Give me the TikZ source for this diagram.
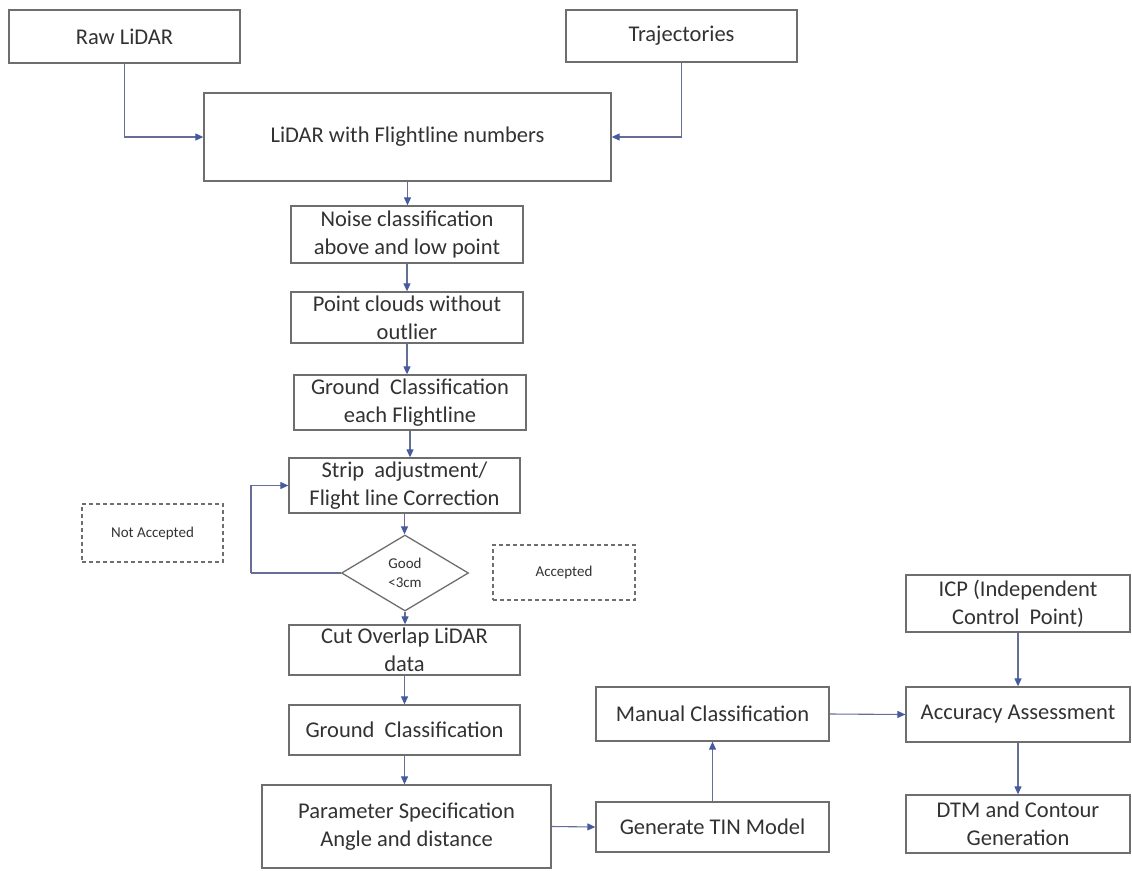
\documentclass[tikz,border=0pt]{standalone}
\usepackage{fontspec}
\setmainfont{Carlito}
\usetikzlibrary{shapes.geometric,arrows.meta}
\definecolor{boxline}{RGB}{110,110,110}
\definecolor{txt}{RGB}{50,50,50}
\definecolor{arrline}{RGB}{100,110,150}
\definecolor{arrhead}{RGB}{70,90,160}
\tikzset{
  box/.style={draw=boxline, line width=1.3pt, rectangle, inner sep=0pt, align=center, text=txt,
    font=\fontsize{22.5}{28}\selectfont},
  dbox/.style={draw=boxline, line width=1.1pt, dash pattern=on 4pt off 3pt, rectangle, inner sep=0pt,
    align=center, text=txt, font=\fontsize{15}{19}\selectfont},
  dia/.style={draw=boxline, line width=1.3pt, shape=diamond, inner sep=0pt, align=center, text=txt,
    font=\fontsize{15}{19}\selectfont},
  conn/.style={draw=arrline, line width=1.1pt, -{Triangle[length=8pt,width=7pt,fill=arrhead,color=arrhead]}},
  plain/.style={draw=arrline, line width=1.1pt}
}
\begin{document}
\begin{tikzpicture}[x=1pt,y=-1pt]
\useasboundingbox (0,0) rectangle (1132,870);
\node[box, minimum width=231, minimum height=53] (raw) at (124.5,36.5) {Raw LiDAR};
\node[box, minimum width=231, minimum height=52] (traj) at (681.5,36) {Trajectories};
\node[box, minimum width=407, minimum height=88] (lidar) at (407.5,137) {LiDAR with Flightline numbers};
\node[box, minimum width=232, minimum height=57] (noise) at (407,234.5) {Noise classification\\above and low point};
\node[box, minimum width=232, minimum height=51] (point) at (407,317.5) {Point clouds without\\outlier};
\node[box, minimum width=232, minimum height=55] (gndeach) at (410,402.5) {Ground~ Classification\\each Flightline};
\node[box, minimum width=231, minimum height=55] (strip) at (404.5,485.5) {Strip~ adjustment/\\Flight line Correction};
\node[dia, minimum width=127, minimum height=76] (good) at (405,573) {Good\\<3cm};
\node[dbox, minimum width=141, minimum height=58] (notacc) at (152.5,533) {Not Accepted};
\node[dbox, minimum width=142, minimum height=55] (acc) at (564,572.5) {Accepted};
\node[box, minimum width=231, minimum height=50] (cut) at (404.5,650) {Cut Overlap LiDAR\\data};
\node[box, minimum width=231, minimum height=50] (gnd) at (404.5,730) {Ground~ Classification};
\node[box, minimum width=289, minimum height=83] (param) at (406.5,826.5) {Parameter Specification\\Angle and distance};
\node[box, minimum width=233, minimum height=50] (tin) at (712.5,827) {Generate TIN Model};
\node[box, minimum width=233, minimum height=54] (manual) at (712.5,714) {Manual Classification};
\node[box, minimum width=224, minimum height=57] (icp) at (1018,603.5) {ICP (Independent\\Control~ Point)};
\node[box, minimum width=224, minimum height=55] (accur) at (1018,714.5) {Accuracy Assessment};
\node[box, minimum width=224, minimum height=58] (dtm) at (1018,824) {DTM and Contour\\Generation};
\coordinate (loopx) at (251,573);
% connectors
\draw[conn] (raw.south) |- (lidar.west);
\draw[conn] (traj.south) |- (lidar.east);
\draw[conn] (lidar.south) -- (lidar.south |- noise.north);
\draw[conn] (noise.south) -- (noise.south |- point.north);
\draw[conn] (point.south) -- (point.south |- gndeach.north);
\draw[conn] (gndeach.south) -- (gndeach.south |- strip.north);
\draw[conn] (strip.south) -- (strip.south |- good.north);
\draw[conn] (good.south) -- (good.south |- cut.north);
\draw[conn] (cut.south) -- (cut.south |- gnd.north);
\draw[conn] (gnd.south) -- (gnd.south |- param.north);
\draw[plain] (good.west) -- (loopx);
\draw[conn] (loopx) |- (strip.west);
\draw[conn] (param.east) -- (tin.west);
\draw[conn] (tin.north) -- (manual.south);
\draw[conn] (manual.east) -- (accur.west);
\draw[conn] (icp.south) -- (accur.north);
\draw[conn] (accur.south) -- (dtm.north);
\end{tikzpicture}
\end{document}
